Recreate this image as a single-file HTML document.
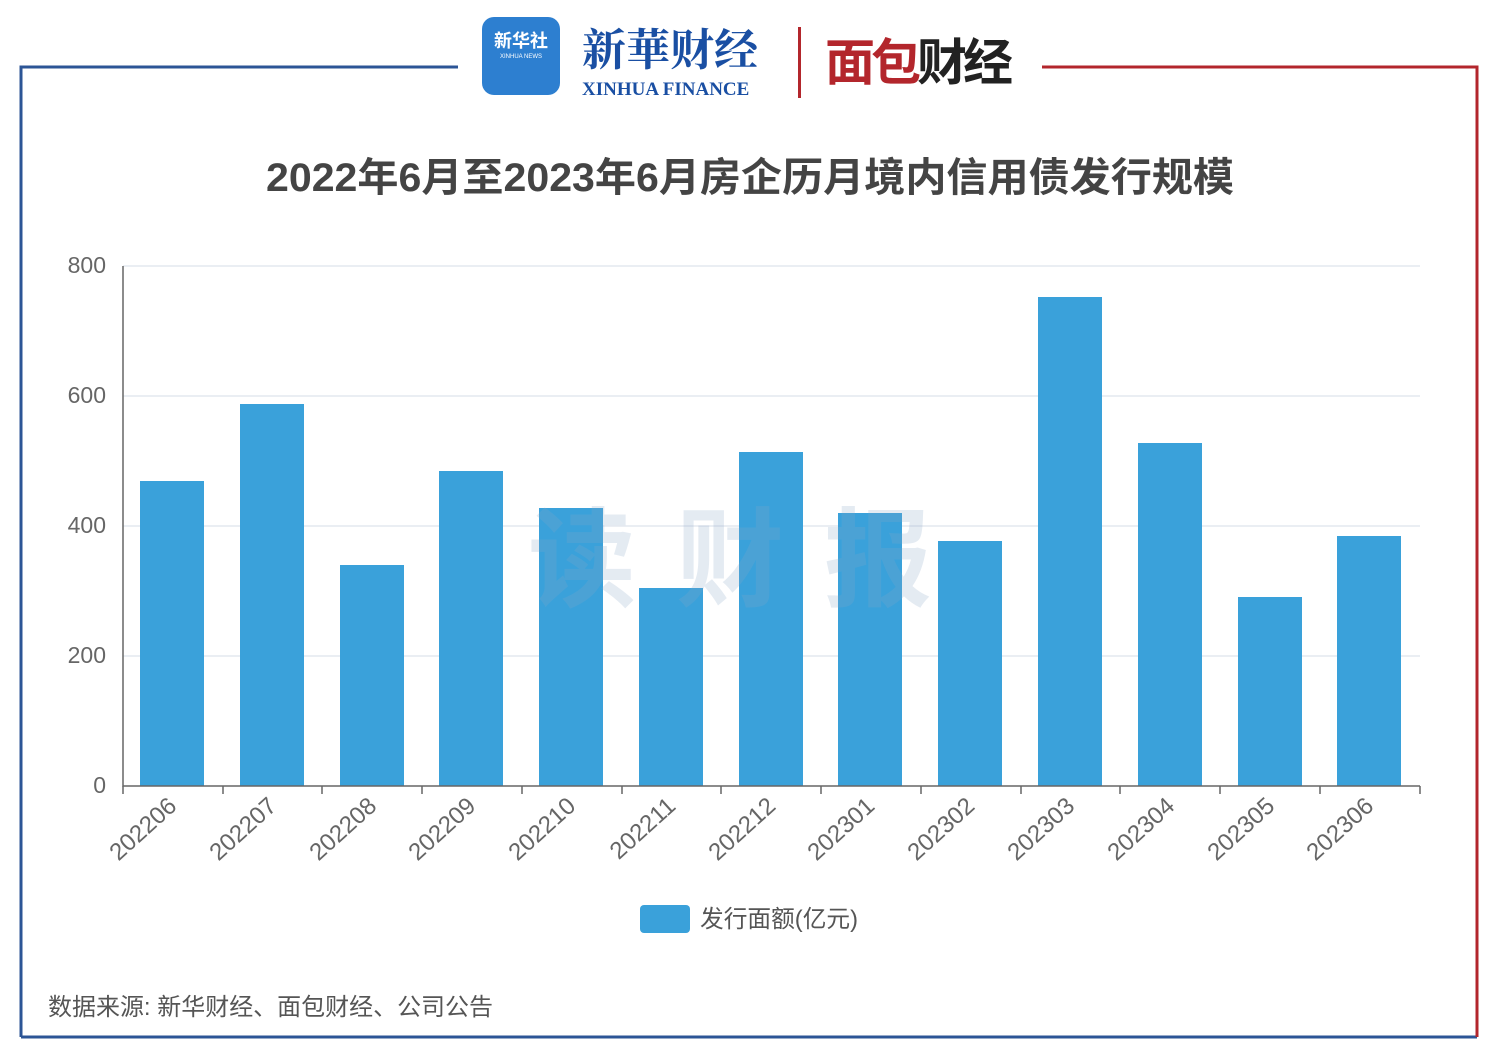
<!DOCTYPE html><html><head><meta charset="utf-8"><style>body{margin:0;background:#fff}svg{display:block}</style></head><body>
<svg width="1500" height="1061" xmlns="http://www.w3.org/2000/svg" font-family="Liberation Sans, Noto Sans CJK SC, sans-serif">
<rect width="1500" height="1061" fill="#fff"/>
<path d="M458 67H21V1037" stroke="#2c5596" stroke-width="3" fill="none"/>
<path d="M21 1037H1477" stroke="#2c5596" stroke-width="3" fill="none"/>
<path d="M1042 67H1477V1037" stroke="#b3262c" stroke-width="3" fill="none"/>
<rect x="482" y="17" width="78" height="78" rx="12" fill="#2d7fd0"/>
<text x="521" y="47" font-size="18" fill="#fff" text-anchor="middle" font-weight="bold">新华社</text>
<text x="521" y="58" font-size="6" fill="#fff" text-anchor="middle">XINHUA NEWS</text>
<text x="582" y="65" font-size="44" fill="#1a4fa3" font-family="Noto Serif CJK SC, serif" font-weight="bold">新華财经</text>
<text x="582" y="95" font-size="19" fill="#1a4fa3" font-family="Liberation Serif, serif" font-weight="bold">XINHUA FINANCE</text>
<rect x="798" y="27" width="3" height="71" fill="#b3262c"/>
<text x="825" y="80" font-size="50" fill="#b3262c" font-weight="bold" letter-spacing="-4">面包<tspan fill="#222">财经</tspan></text>
<text x="750" y="191" font-size="40" font-weight="bold" fill="#444" text-anchor="middle" textLength="968" lengthAdjust="spacingAndGlyphs">2022年6月至2023年6月房企历月境内信用债发行规模</text>
<g stroke="#e3e8ef" stroke-width="1.5"><path d="M123 266H1420M123 396H1420M123 526H1420M123 656H1420"/></g>
<g font-size="23" fill="#666" text-anchor="end"><text x="106" y="273">800</text><text x="106" y="403">600</text><text x="106" y="533">400</text><text x="106" y="663">200</text><text x="106" y="793">0</text></g>
<g fill="#3aa1da">
<rect x="140" y="481" width="64" height="305"/><rect x="240" y="404" width="64" height="382"/><rect x="340" y="565" width="64" height="221"/><rect x="439" y="471" width="64" height="315"/><rect x="539" y="508" width="64" height="278"/><rect x="639" y="588" width="64" height="198"/><rect x="739" y="452" width="64" height="334"/><rect x="838" y="513" width="64" height="273"/><rect x="938" y="541" width="64" height="245"/><rect x="1038" y="297" width="64" height="489"/><rect x="1138" y="443" width="64" height="343"/><rect x="1238" y="597" width="64" height="189"/><rect x="1337" y="536" width="64" height="250"/>
</g>
<text x="750" y="598" font-size="108" font-weight="bold" fill="#8aa6c8" opacity="0.22" text-anchor="middle" letter-spacing="40">读财报</text>
<path d="M123 266V786H1420" stroke="#666" stroke-width="1.5" fill="none"/>
<g stroke="#666" stroke-width="1.5"><path d="M123 786v8M223 786v8M322 786v8M422 786v8M522 786v8M622 786v8M721 786v8M821 786v8M921 786v8M1021 786v8M1120 786v8M1220 786v8M1320 786v8M1420 786v8"/></g>
<g font-size="24" fill="#666" text-anchor="end">
<text transform="translate(178,808) rotate(-42)">202206</text><text transform="translate(278,808) rotate(-42)">202207</text><text transform="translate(378,808) rotate(-42)">202208</text><text transform="translate(477,808) rotate(-42)">202209</text><text transform="translate(577,808) rotate(-42)">202210</text><text transform="translate(677,808) rotate(-42)">202211</text><text transform="translate(777,808) rotate(-42)">202212</text><text transform="translate(876,808) rotate(-42)">202301</text><text transform="translate(976,808) rotate(-42)">202302</text><text transform="translate(1076,808) rotate(-42)">202303</text><text transform="translate(1176,808) rotate(-42)">202304</text><text transform="translate(1276,808) rotate(-42)">202305</text><text transform="translate(1375,808) rotate(-42)">202306</text>
</g>
<rect x="640" y="905" width="50" height="28" rx="4" fill="#3aa1da"/>
<text x="700" y="927" font-size="24" fill="#555" textLength="158" lengthAdjust="spacingAndGlyphs">发行面额(亿元)</text>
<text x="48" y="1015" font-size="24" fill="#555" textLength="445" lengthAdjust="spacingAndGlyphs">数据来源: 新华财经、面包财经、公司公告</text>
</svg></body></html>
